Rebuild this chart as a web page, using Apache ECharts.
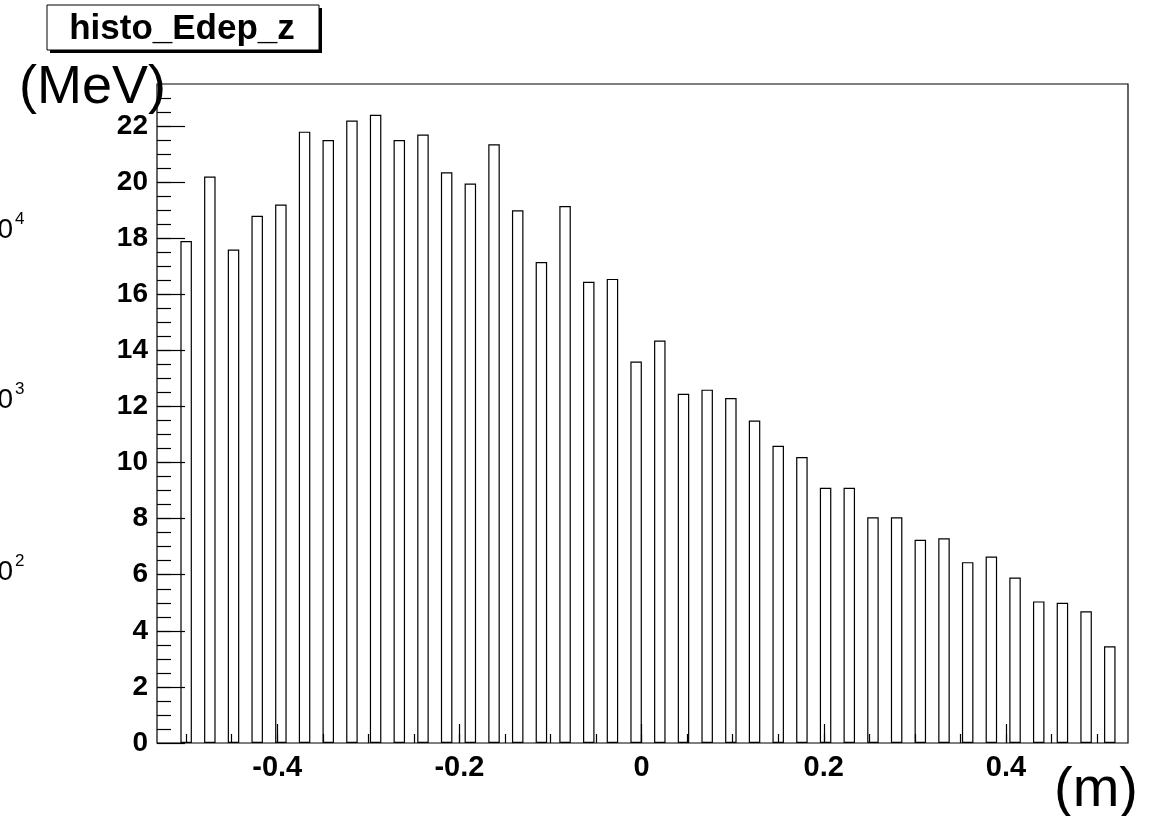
<!DOCTYPE html>
<html>
<head>
<meta charset="utf-8">
<script src="https://cdn.jsdelivr.net/npm/echarts@6/dist/echarts.min.js"></script>
<style>
  html, body { margin: 0; padding: 0; background: #ffffff; }
  #main { width: 1154px; height: 816px; }
</style>
</head>
<body>
<div id="main"></div>
<script>
// Energy deposited per z slice (MeV), one value per bin
const edep = [
  17.9, 20.2, 17.6, 18.8, 19.2, 21.8, 21.5, 22.2, 22.4, 21.5,
  21.7, 20.35, 19.95, 21.35, 19.0, 17.15, 19.15, 16.45, 16.55, 13.6,
  14.35, 12.45, 12.6, 12.3, 11.5, 10.6, 10.2, 9.1, 9.1, 8.05,
  8.05, 7.25, 7.3, 6.45, 6.65, 5.9, 5.05, 5.0, 4.7, 3.45
];
// Bar placement along z (m): first bar and step between bins
const zFirst = -0.5;
const zStep = 0.026;
// Axis ranges
const zRange = [-0.532, 0.534];
const edepRange = [0, 23.5];
// Tick labels
const zMajorTicks = [-0.4, -0.2, 0, 0.2, 0.4];
const edepMajorTicks = [0, 2, 4, 6, 8, 10, 12, 14, 16, 18, 20, 22];
// Minor tick spacing
const zMinorStep = 0.05;
const edepMinorStep = 0.5;
// Decade labels on the left margin
const decadeExps = ['4', '3', '2'];

const zMinorTicks = [];
for (let v = -0.5; v <= 0.5001; v += zMinorStep) zMinorTicks.push(+v.toFixed(3));
const edepMinorTicks = [];
for (let v = edepMinorStep; v < edepRange[1]; v += edepMinorStep) edepMinorTicks.push(+v.toFixed(2));

const barData = edep.map((e, i) => [+(zFirst + i * zStep).toFixed(4), e]);

const FONT = '"Liberation Sans", Arial, Helvetica, sans-serif';
const chart = echarts.init(document.getElementById('main'), null, { renderer: 'canvas' });

const decadeY = [230, 400, 572];
const decadeGraphics = [];
decadeExps.forEach((exp, k) => {
  decadeGraphics.push({
    type: 'text', x: 13, y: decadeY[k],
    style: { text: '10', font: '28px ' + FONT, fill: '#000', align: 'right', verticalAlign: 'middle' }
  });
  decadeGraphics.push({
    type: 'text', x: 15, y: decadeY[k] - 11,
    style: { text: exp, font: '17px ' + FONT, fill: '#000', align: 'left', verticalAlign: 'middle' }
  });
});

const tickStyle = { color: '#000', width: 1.2 };

const option = {
  animation: false,
  backgroundColor: '#ffffff',
  grid: {
    left: 157, top: 84, width: 971, height: 659,
    show: true, borderColor: '#000', borderWidth: 1.2, backgroundColor: 'transparent'
  },
  xAxis: [
    {
      type: 'value', min: zRange[0], max: zRange[1], position: 'bottom', z: 5,
      axisLine: { show: false, onZero: false },
      splitLine: { show: false },
      axisTick: { show: true, inside: true, length: 19, customValues: zMajorTicks, lineStyle: tickStyle },
      axisLabel: {
        show: true, customValues: zMajorTicks, margin: 10,
        fontFamily: FONT, fontSize: 29, fontWeight: 'bold', color: '#000'
      }
    },
    {
      type: 'value', min: zRange[0], max: zRange[1], position: 'bottom', z: 5,
      axisLine: { show: false, onZero: false },
      splitLine: { show: false },
      axisTick: { show: true, inside: true, length: 9, customValues: zMinorTicks, lineStyle: tickStyle },
      axisLabel: { show: false }
    }
  ],
  yAxis: [
    {
      type: 'value', min: edepRange[0], max: edepRange[1], position: 'left', z: 5,
      axisLine: { show: false, onZero: false },
      splitLine: { show: false },
      axisTick: { show: true, inside: true, length: 28, customValues: edepMajorTicks, lineStyle: tickStyle },
      axisLabel: {
        show: true, customValues: edepMajorTicks, margin: 9,
        fontFamily: FONT, fontSize: 28, fontWeight: 'bold', color: '#000'
      }
    },
    {
      type: 'value', min: edepRange[0], max: edepRange[1], position: 'left', z: 5,
      axisLine: { show: false, onZero: false },
      splitLine: { show: false },
      axisTick: { show: true, inside: true, length: 14, customValues: edepMinorTicks, lineStyle: tickStyle },
      axisLabel: { show: false }
    }
  ],
  series: [
    {
      name: 'histo_Edep_z',
      type: 'bar',
      xAxisIndex: 0, yAxisIndex: 0,
      data: barData,
      barWidth: 11.5,
      itemStyle: { color: '#ffffff', borderColor: '#000', borderWidth: 1.2 },
      emphasis: { disabled: true },
      z: 2
    }
  ],
  graphic: [
    // title box with drop shadow
    { type: 'rect', shape: { x: 50, y: 8, width: 272, height: 45 }, style: { fill: '#000' }, z: 10 },
    { type: 'rect', shape: { x: 47, y: 5, width: 272, height: 45 }, style: { fill: '#fff', stroke: '#000', lineWidth: 1 }, z: 11 },
    {
      type: 'text', x: 182, y: 29, z: 12,
      style: { text: 'histo_Edep_z', font: 'bold 35px ' + FONT, fill: '#000', align: 'center', verticalAlign: 'middle' }
    },
    {
      type: 'text', x: 19, y: 88, z: 12,
      style: { text: '(MeV)', font: '54px ' + FONT, fill: '#000', align: 'left', verticalAlign: 'middle' }
    },
    {
      type: 'text', x: 1054, y: 791, z: 12,
      style: { text: '(m)', font: '56px ' + FONT, fill: '#000', align: 'left', verticalAlign: 'middle' }
    }
  ].concat(decadeGraphics)
};

chart.setOption(option);
</script>
</body>
</html>
